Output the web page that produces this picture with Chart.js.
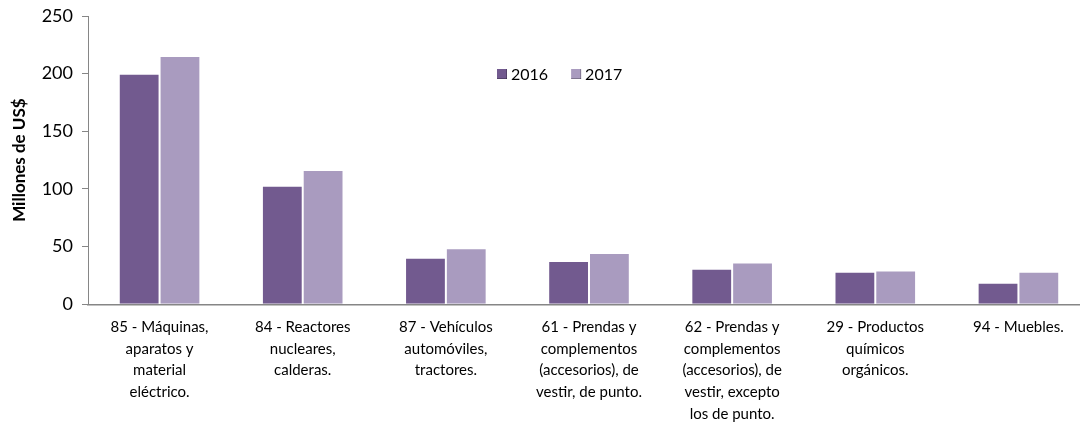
<!DOCTYPE html>
<html><head><meta charset="utf-8">
<script src="https://cdn.jsdelivr.net/npm/chart.js@4.4.1/dist/chart.umd.min.js"></script>
<style>html,body{margin:0;padding:0;background:#fff;overflow:hidden;width:1080px;height:446px}#wrap{width:1090px;height:446px}</style>
</head><body><div id="wrap"><canvas id="c" width="1090" height="446"></canvas></div>
<script>
const categories = [
  ["85 - Máquinas,","aparatos y","material","eléctrico."],
  ["84 - Reactores","nucleares,","calderas."],
  ["87 - Vehículos","automóviles,","tractores."],
  ["61 - Prendas y","complementos","(accesorios), de","vestir, de punto."],
  ["62 - Prendas y","complementos","(accesorios), de","vestir, excepto","los de punto."],
  ["29 - Productos","químicos","orgánicos."],
  ["94 - Muebles."]
];
const seriesNames = ["2016","2017"];
const values2016 = [200.0, 102.8, 40.3, 37.5, 30.8, 28.2, 18.6];
const values2017 = [215.4, 116.5, 48.5, 44.4, 36.3, 29.3, 28.2];
const yTicks = [0, 50, 100, 150, 200, 250];
const colors = ["#725A8F", "#A99BBF"];
const FONT = "Lato, 'Open Sans', sans-serif";

const legendPlugin = {
  id: 'customLegend',
  afterDraw(chart) {
    const ctx = chart.ctx;
    ctx.save();
    ctx.font = "16px " + FONT;
    ctx.textBaseline = 'middle';
    let x = 497, y = 74;
    chart.data.datasets.forEach((ds) => {
      ctx.fillStyle = ds.backgroundColor;
      ctx.fillRect(x, y - 5, 10, 10);
      ctx.fillStyle = 'rgba(0,0,0,0.25)';
      ctx.fillRect(x, y + 4, 10, 1);
      ctx.fillRect(x + 9, y - 5, 1, 10);
      ctx.fillStyle = '#000';
      ctx.fillText(ds.label, x + 14, y + 1);
      x += 14 + ctx.measureText(ds.label).width + 23;
    });
    ctx.restore();
  }
};

new Chart(document.getElementById('c'), {
  type: 'bar',
  data: {
    labels: categories,
    datasets: [
      { label: seriesNames[0], data: values2016, backgroundColor: colors[0], borderColor: '#fff', borderWidth: 1 },
      { label: seriesNames[1], data: values2017, backgroundColor: colors[1], borderColor: '#fff', borderWidth: 1 }
    ]
  },
  options: {
    responsive: false,
    animation: false,
    layout: { padding: { top: 16, right: 0, bottom: 17, left: 0 } },
    plugins: { legend: { display: false }, tooltip: { enabled: false } },
    datasets: { bar: { categoryPercentage: 0.57, barPercentage: 1.0 } },
    scales: {
      x: {
        grid: { display: false },
        border: { color: '#868686', width: 1.5 },
        ticks: { color: '#000', font: { family: FONT, size: 15, lineHeight: 1.45 }, maxRotation: 0, minRotation: 0, autoSkip: false, padding: 4 }
      },
      y: {
        min: 0, max: 250,
        afterBuildTicks: s => { s.ticks = yTicks.map(v => ({ value: v })); },
        afterFit: s => { s.width = 88; s.paddingTop = 0; },
        grid: { drawOnChartArea: false, tickLength: 6, color: '#868686' },
        border: { color: '#868686', width: 1 },
        ticks: { color: '#000', font: { family: FONT, size: 18, lineHeight: 1.0 }, padding: 9 },
        title: { display: true, text: 'Millones de US$', color: '#000', font: { family: FONT, size: 17, weight: 'bold' }, padding: { top: 9, bottom: 0 } }
      }
    }
  },
  plugins: [legendPlugin]
});
</script></body></html>
